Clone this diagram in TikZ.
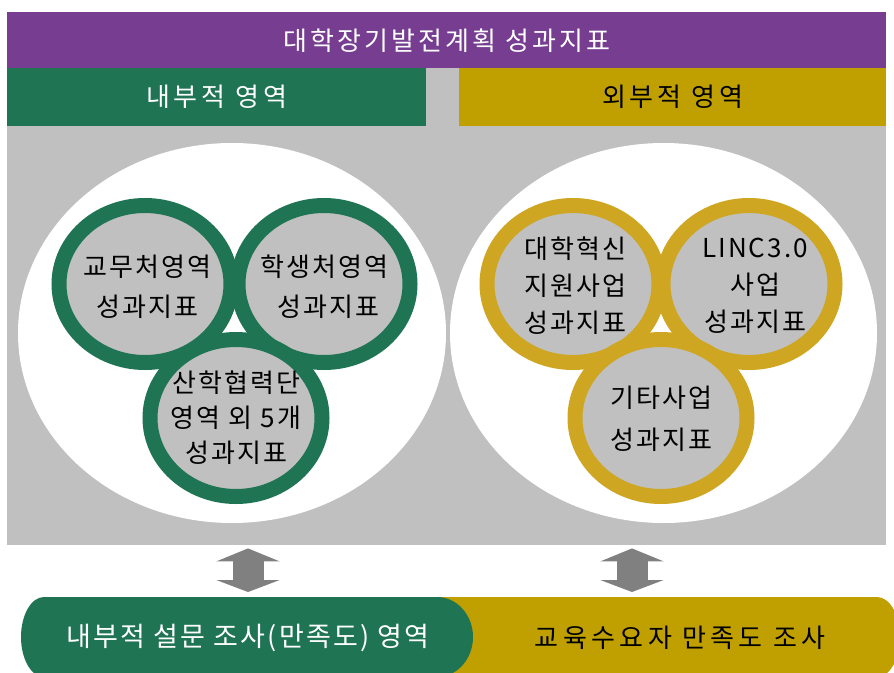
\documentclass[tikz,border=0pt]{standalone}
\usepackage{fontspec}
\setmainfont{Noto Sans CJK KR}
\newfontfamily\titlefont[LetterSpace=12]{Noto Sans CJK KR}
\newfontfamily\headfont[LetterSpace=15]{Noto Sans CJK KR}
\newfontfamily\ringfont[LetterSpace=8]{Noto Sans CJK KR}
\newfontfamily\surveyfont[LetterSpace=8]{Noto Sans CJK KR}
\newfontfamily\widefont[LetterSpace=17]{Noto Sans CJK KR}
\usetikzlibrary{shapes.geometric,arrows.meta,positioning}
\definecolor{planpurple}{RGB}{118,61,145}
\definecolor{ingreen}{RGB}{31,116,83}
\definecolor{exgold}{RGB}{191,160,0}
\definecolor{ringgold}{RGB}{207,166,33}
\definecolor{panelgray}{RGB}{192,192,192}
\definecolor{arrowgray}{RGB}{128,128,128}
\tikzset{
  band/.style  = { inner sep=0, anchor=north west, minimum height=56pt },
  oval/.style  = { ellipse, fill=white, inner sep=0,
                   minimum width=428pt, minimum height=380pt },
  ring/.style  = { ellipse, fill=panelgray, line width=15pt, inner sep=0,
                   minimum width=172pt, minimum height=157pt },
  ringG/.style = { ring, draw=ingreen },
  ringY/.style = { ring, draw=ringgold },
  rtext/.style = { align=center, inner sep=0,
                   font=\ringfont\fontsize{26}{37}\selectfont },
  btext/.style = { inner sep=0, font=\surveyfont\fontsize{27}{30}\selectfont },
  updown/.style = { line width=31pt, arrowgray,
                    {Triangle[length=13pt,width=63pt]}-{Triangle[length=12pt,width=63pt]},
                    shorten <=3pt, shorten >=5pt }
}
\begin{document}
\begin{tikzpicture}[x=1pt, y=-1pt]
  \useasboundingbox (0,0) rectangle (894,672);

  % grey panel and header bars
  \node[band, fill=panelgray, minimum width=879pt, minimum height=477pt] (panel) at (7,68) {};
  \node[band, fill=planpurple, minimum width=879pt, text=white,
        font=\titlefont\fontsize{26}{30}\selectfont] (title) at (7,12) {대학장기발전계획 성과지표};
  \node[band, fill=ingreen, minimum width=419pt, minimum height=58pt, text=white,
        font=\headfont\fontsize{26}{30}\selectfont] (inHead) at (7,68) {내부적 영역};
  \node[band, fill=exgold, minimum width=427pt, minimum height=58pt,
        font=\headfont\fontsize{26}{30}\selectfont] (exHead) at (459,68) {외부적 영역};

  % white areas
  \node[oval] (inOval) at (232,333) {};
  \node[oval, minimum width=427pt] (exOval) at (663.5,333) {};

  % internal indicators
  \node[ringG] (kyomu) at (145,284) {};
  \node[ringG] (haksaeng) at (324,284) {};
  \node[ringG] (sanhak) at (236,418) {};
  \node[rtext, font=\ringfont\fontsize{26}{40}\selectfont] (kyomuT) at (147,287) {교무처영역\\성과지표};
  \node[rtext, font=\ringfont\fontsize{26}{40}\selectfont] (haksaengT) at (324,287) {학생처영역\\\hspace{8pt}성과지표};
  \node[rtext, font=\ringfont\fontsize{26}{35}\selectfont] (sanhakT) at (236,418)
       {산학협력단\\영역 외 5개\\성과지표};

  % external indicators
  \node[ringY] (hyeoksin) at (573,284) {};
  \node[ringY] (linc) at (749,284) {};
  \node[ringY] (gita) at (661,418) {};
  \node[rtext] (hyeoksinT) at (575,286) {대학혁신\\지원사업\\성과지표};
  \node[rtext] (lincT) at (755,286) {LINC3.0\\사업\hspace{10pt}\\성과지표};
  \node[rtext, font=\ringfont\fontsize{26}{42}\selectfont] (gitaT) at (661,419) {기타사업\\성과지표};

  % survey bars
  \fill[exgold] (420,597) -- (877,597)
     arc[start angle=-90, end angle=90, x radius=23, y radius=40] -- (420,677) -- cycle;
  \fill[ingreen] (44,597) -- (437,597)
     arc[start angle=-90, end angle=90, x radius=36, y radius=40] -- (44,677)
     arc[start angle=90, end angle=270, x radius=23, y radius=40] -- cycle;
  \node[btext, text=white] (inSurvey) at (248,638) {내부적 설문 조사(만족도) 영역};
  \node[btext, font=\widefont\fontsize{26}{30}\selectfont] (exSurvey) at (680,638) {교육수요자 만족도 조사};
  \coordinate (inTop) at (248,597);
  \coordinate (exTop) at (632,597);

  \draw[updown] (panel.south -| inTop) -- (inTop);
  \draw[updown] (panel.south -| exTop) -- (exTop);
\end{tikzpicture}
\end{document}
